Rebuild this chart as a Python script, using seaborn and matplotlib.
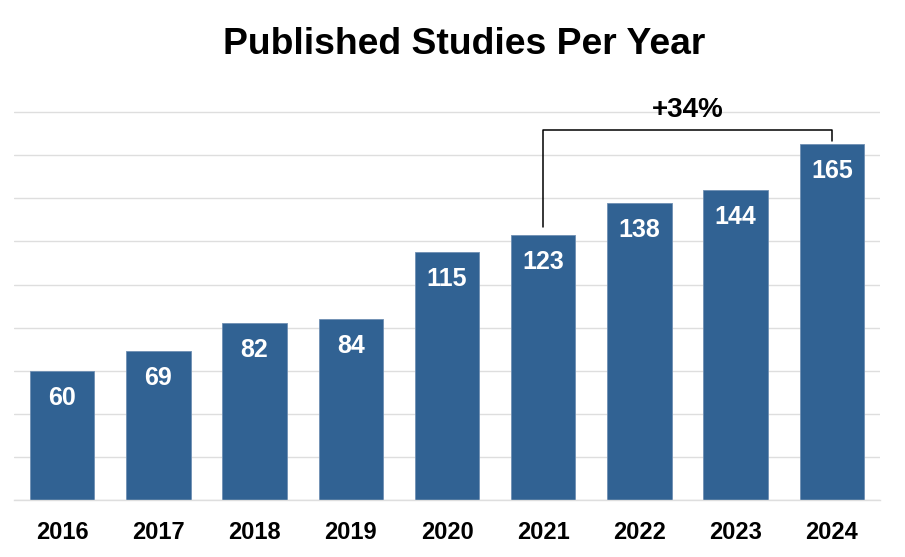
import matplotlib
matplotlib.use("Agg")
import matplotlib.pyplot as plt
import seaborn as sns
import pandas as pd

years = ["2016", "2017", "2018", "2019", "2020", "2021", "2022", "2023", "2024"]
studies = [60, 69, 82, 84, 115, 123, 138, 144, 165]
title = "Published Studies Per Year"
growth_label = "+34%"
growth_from, growth_to = "2021", "2024"

sns.set_theme(style="whitegrid")
plt.rcParams['font.family'] = ['Liberation Sans', 'DejaVu Sans']

df = pd.DataFrame({"year": years, "studies": studies})
bar_color = "#316293"

fig = plt.figure(figsize=(9.05, 5.57), dpi=100)
ax = fig.add_axes([14/905, 1 - 500/557, 866/905, (500 - 69)/557])

sns.barplot(data=df, x="year", y="studies", color=bar_color, saturation=1,
            width=0.67, ax=ax, edgecolor="#6f8fb3", linewidth=0.6)

ax.set_xlim(-0.5, len(years) - 0.5)
ax.set_ylim(0, 200)
ax.set_yticks(range(0, 181, 20))
ax.set_yticklabels([])
ax.tick_params(axis="y", length=0)
ax.grid(axis="y", color="#dedede", linewidth=1)
ax.grid(axis="x", visible=False)
for s in ["top", "right", "left"]:
    ax.spines[s].set_visible(False)
ax.spines["bottom"].set_color("#dedede")
ax.spines["bottom"].set_linewidth(1)
ax.set_xlabel("")
ax.set_ylabel("")
ax.tick_params(axis="x", length=0, pad=15, labelsize=17, labelcolor="black")
for lbl in ax.get_xticklabels():
    lbl.set_fontweight("bold")

for i, v in enumerate(studies):
    ax.text(i, v - 12.5, str(v), ha="center", va="center", color="white",
            fontsize=18, fontweight="bold")

i0 = years.index(growth_from)
i1 = years.index(growth_to)
y_br = 171.5
ax.plot([i0, i0, i1, i1], [studies[i0] + 3.5, y_br, y_br, studies[i1] + 1.5],
        color="black", linewidth=1.1, clip_on=False)
ax.text((i0 + i1) / 2, 181, growth_label, ha="center", va="center",
        fontsize=20, fontweight="bold", color="black")

fig.text(464/905, 1 - 44/557, title, ha="center", va="center",
         fontsize=26.8, fontweight="bold", color="black")

fig.savefig("out.png", dpi=100, facecolor="white")
